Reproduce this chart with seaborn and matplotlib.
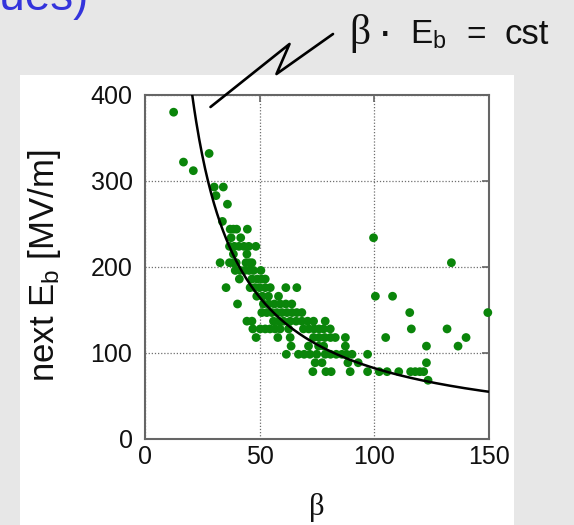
import numpy as np
import pandas as pd
import matplotlib
matplotlib.use("Agg")
import matplotlib.pyplot as plt
import seaborn as sns
from matplotlib.patches import Rectangle
from matplotlib.lines import Line2D

# ---------------- data ----------------
# next breakdown field levels (MV/m), one per row of points
eb_rows = [380, 332, 322, 312, 293, 283, 273, 253, 244, 234, 224, 215, 205,
           196, 186, 176, 166, 157, 147, 137, 128, 118, 108, 98.5, 88.7,
           78.3, 68.3]
# beta values of the points found on each row
beta_rows = [
    [12.5],
    [28],
    [16.8],
    [21.1],
    [30.2, 34.2],
    [31],
    [36],
    [33.8],
    [37.2, 38.6, 40, 44.7],
    [37.6, 41.8, 99.8],
    [36.9, 39, 41, 43.2, 45.3, 48.4],
    [38.6, 44.5],
    [32.8, 36.9, 38.5, 39.8, 44.1, 45.5, 46.7, 133.8],
    [39.4, 41.5, 43.5, 45.5, 47.4, 50.6],
    [41.2, 46.7, 49, 51, 52.5],
    [35.4, 45.9, 48, 50, 52.5, 54.7, 61.5, 66.3],
    [48.8, 51.3, 53.9, 58.3, 100.6, 108.1],
    [40.4, 51.7, 54, 56.5, 59, 61.5, 64.1],
    [51, 53.2, 55.4, 57.6, 59.8, 62, 64.2, 66.3, 68.5, 115.6, 149.7],
    [44.5, 46.7, 56.1, 58.3, 60.5, 63.4, 66, 68.5, 71, 73.6, 78.7],
    [47.1, 50.3, 52.5, 54.6, 56.8, 59, 62.7, 69.2, 71.5, 73.8, 76, 78, 80.9,
     116.3, 131.9],
    [48.5, 58, 63.4, 73.6, 76, 78.5, 81, 83.1, 87.5, 105.1, 140.2],
    [63.8, 71.4, 75.8, 78, 87.5, 122.9, 136.7],
    [61.7, 67, 69.5, 72, 75, 78.7, 81, 83.5, 86, 88, 90.4, 97.2],
    [74.3, 77.3, 88.6, 93.1, 122.9],
    [73.3, 79, 81.3, 89.6, 97.2, 102.3, 105.7, 110.8, 116, 118, 120, 121.7],
    [123.6],
]
curve_const = 8250.0          # beta * E_b = cst
x_ticks = [0, 50, 100, 150]
y_ticks = [0, 100, 200, 300, 400]

beta_pts = [b for row in beta_rows for b in row]
eb_pts = [e for e, row in zip(eb_rows, beta_rows) for _ in row]
df = pd.DataFrame({"beta": beta_pts, "eb": eb_pts})

curve_beta = np.linspace(curve_const / 400.0, 150, 300)
curve_df = pd.DataFrame({"beta": curve_beta, "eb": curve_const / curve_beta})

# ---------------- style ----------------
sns.set_theme(style="white")
plt.rcParams["font.family"] = ["Liberation Sans", "DejaVu Sans"]
plt.rcParams["mathtext.fontset"] = "custom"
plt.rcParams["mathtext.rm"] = "Liberation Sans"
plt.rcParams["mathtext.it"] = "Liberation Sans"

W, H = 574, 525
fig = plt.figure(figsize=(W / 100, H / 100), dpi=100, facecolor="#e7e7e7")

# white panel of the slide
fig.add_artist(Rectangle((20 / W, 0), 494 / W, 450 / H, transform=fig.transFigure,
                         facecolor="white", edgecolor="none", zorder=0))

ax = fig.add_axes([145 / W, 86 / H, 343.5 / W, 344 / H])
ax.set_facecolor("white")

sns.scatterplot(data=df, x="beta", y="eb", ax=ax, color="#0a850a", s=40,
                edgecolor="none", linewidth=0, zorder=3, clip_on=False,
                legend=False)
sns.lineplot(data=curve_df, x="beta", y="eb", ax=ax, color="black",
             linewidth=1.8, estimator=None, sort=False, zorder=4)

ax.set_xlim(0, 150)
ax.set_ylim(0, 400)
ax.set_xticks(x_ticks)
ax.set_yticks(y_ticks)
ax.set_xticklabels([str(t) for t in x_ticks])
ax.set_yticklabels([str(t) for t in y_ticks])

ax.grid(True, linestyle=(0, (1, 1.5)), color="#6f6f6f", linewidth=0.9)
ax.set_axisbelow(True)
for sp in ax.spines.values():
    sp.set_color("#666666")
    sp.set_linewidth(1.5)
    sp.set_visible(True)

ax.tick_params(axis="both", which="both", direction="in", length=5,
               width=1.2, color="#666666", top=True, right=True,
               labelsize=18, labelcolor="#111111")
ax.tick_params(axis="y", pad=9)
ax.tick_params(axis="x", pad=4)

ax.set_xlabel("β", fontsize=22, family=["Liberation Serif", "DejaVu Serif"],
              color="#111111")
ax.xaxis.set_label_coords(0.5, -0.158)
ax.set_ylabel(r"next E$_\mathrm{b}$ [MV/m]", fontsize=25, color="#111111")
ax.yaxis.set_label_coords(-0.24, 0.505)

# ---------------- slide annotations ----------------
# clipped title fragment at top-left (only its lower part lies on the slide)
fig.text(88 / W, (H - 10) / H, "(typical values)", color="#3434dc",
         fontsize=33, ha="right", va="baseline")

# beta * E_b = cst label
base_y = (H - 44) / H
fig.text(349 / W, base_y, "β", fontsize=30,
         family=["Liberation Serif", "DejaVu Serif"], color="#111111",
         ha="left", va="baseline")
fig.text(386 / W, base_y, "·", fontsize=22, color="#111111", ha="center",
         va="baseline", fontweight="bold")
fig.text(410 / W, base_y, r"E$_\mathrm{b}$", fontsize=24, color="#111111",
         ha="left", va="baseline")
fig.text(476 / W, base_y, "=", fontsize=24, color="#111111", ha="center",
         va="baseline")
fig.text(505 / W, base_y, "cst", fontsize=25, color="#111111", ha="left",
         va="baseline")

# zigzag pointer from label to the curve
zig_px = [(333, 34), (276.5, 74), (289.5, 44), (210.5, 107)]
fig.add_artist(Line2D([p[0] / W for p in zig_px],
                      [(H - p[1]) / H for p in zig_px],
                      transform=fig.transFigure, color="black",
                      linewidth=1.9, zorder=5))

fig.savefig("out.png", dpi=100, facecolor=fig.get_facecolor())
